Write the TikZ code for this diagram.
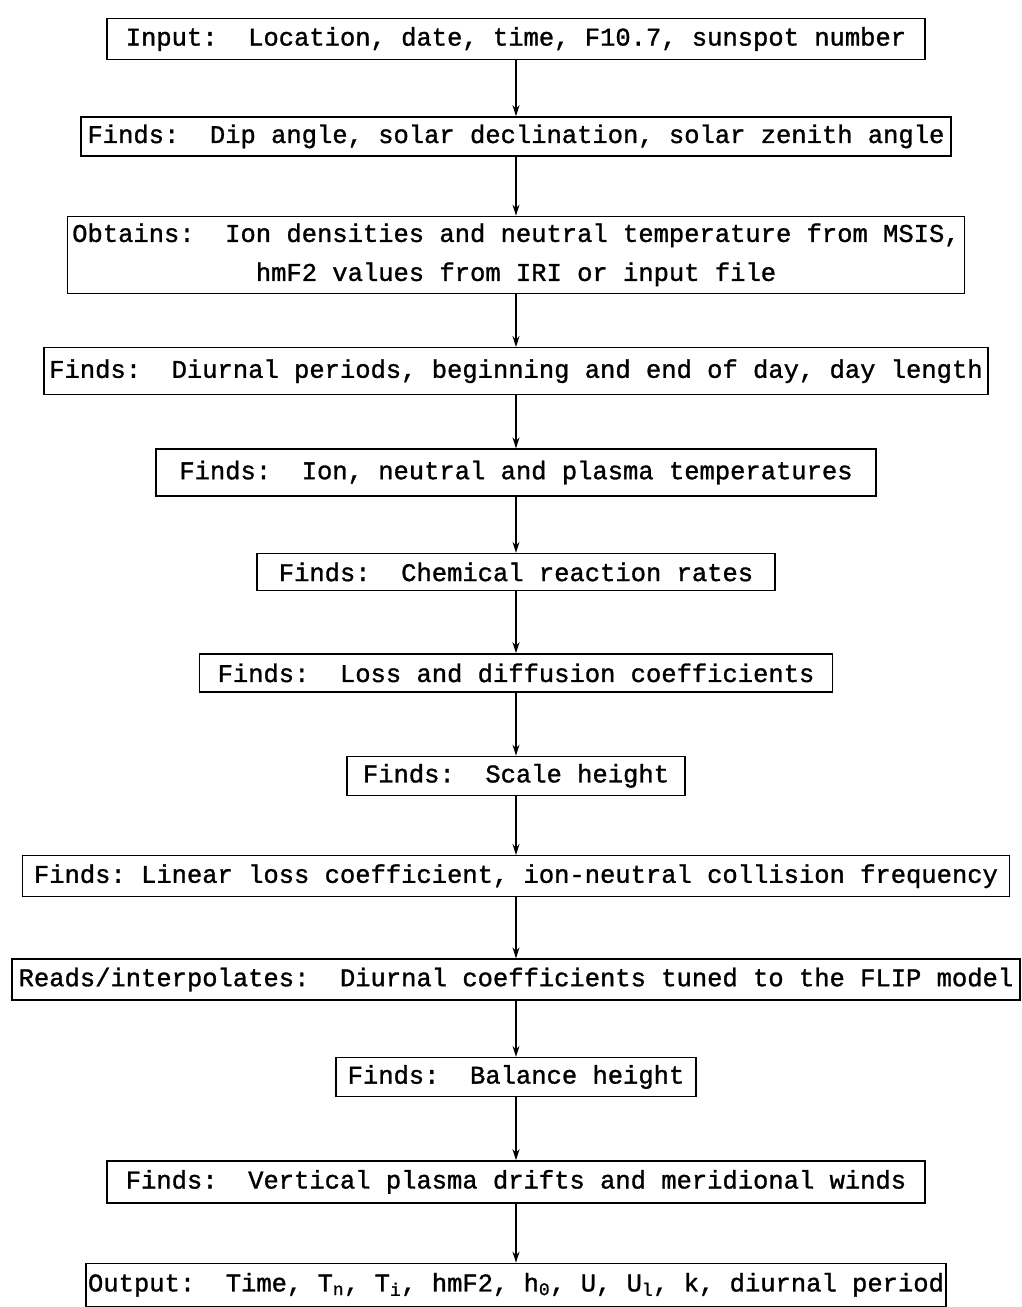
\documentclass[tikz,border=0pt]{standalone}
\usepackage{fontspec}
\setmonofont[FakeBold=1.2]{Liberation Mono}
\usepackage{tikz}
\usetikzlibrary{arrows.meta, positioning}

\begin{document}
\begin{tikzpicture}[x=1pt, y=1pt, >={Stealth[length=11pt,width=7pt]},
  font=\ttfamily\fontsize{25.5}{39}\selectfont, node distance=59pt,
  stepbox/.style={draw, line width=1.4pt, minimum height=41pt, inner sep=0pt, align=center},
  flow/.style={->, line width=1.4pt}]
  \useasboundingbox (0,0) rectangle (1022,-1307);
  \node[stepbox, minimum width=818pt] (input) at (516,-39) {Input:~ Location, date, time, F10.7, sunspot number};
  \node[stepbox, minimum width=870pt, minimum height=39pt, below=56pt of input] (dip) {Finds:~ Dip angle, solar declination, solar zenith angle};
  \node[stepbox, minimum width=897pt, minimum height=77pt, below=59pt of dip] (msis) {Obtains:~ Ion densities and neutral temperature from MSIS,\\hmF2 values from IRI or input file};
  \node[stepbox, minimum width=944pt, minimum height=47pt, below=53pt of msis] (period) {Finds:~ Diurnal periods, beginning and end of day, day length};
  \node[stepbox, minimum width=720pt, minimum height=47pt, below=53pt of period] (temp) {Finds:~ Ion, neutral and plasma temperatures};
  \node[stepbox, minimum width=518pt, minimum height=37pt, below=56pt of temp] (chem) {Finds:~ Chemical reaction rates};
  \node[stepbox, minimum width=633pt, minimum height=38pt, below=62pt of chem] (loss) {Finds:~ Loss and diffusion coefficients};
  \node[stepbox, minimum width=338pt, minimum height=39pt, below=63pt of loss] (scale) {Finds:~ Scale height};
  \node[stepbox, minimum width=987pt, below=of scale] (linear) {Finds: Linear loss coefficient, ion-neutral collision frequency};
  \node[stepbox, minimum width=1008pt, below=61pt of linear] (flip) {Reads/interpolates:~ Diurnal coefficients tuned to the FLIP model};
  \node[stepbox, minimum width=360pt, minimum height=39pt, below=56pt of flip] (balance) {Finds:~ Balance height};
  \node[stepbox, minimum width=818pt, minimum height=42pt, below=63pt of balance] (drift) {Finds:~ Vertical plasma drifts and meridional winds};
  \node[stepbox, minimum width=860pt, minimum height=43pt, below=of drift] (output) {Output:~ Time, T\textsubscript{n}, T\textsubscript{i}, hmF2, h\textsubscript{0}, U, U\textsubscript{l}, k, diurnal period};
  % arrows between the steps
  \foreach \from/\to in {input/dip, dip/msis, msis/period, period/temp, temp/chem, chem/loss,
    loss/scale, scale/linear, linear/flip, flip/balance, balance/drift, drift/output}
    \draw[flow] (\from) -- (\to);
\end{tikzpicture}
\end{document}
